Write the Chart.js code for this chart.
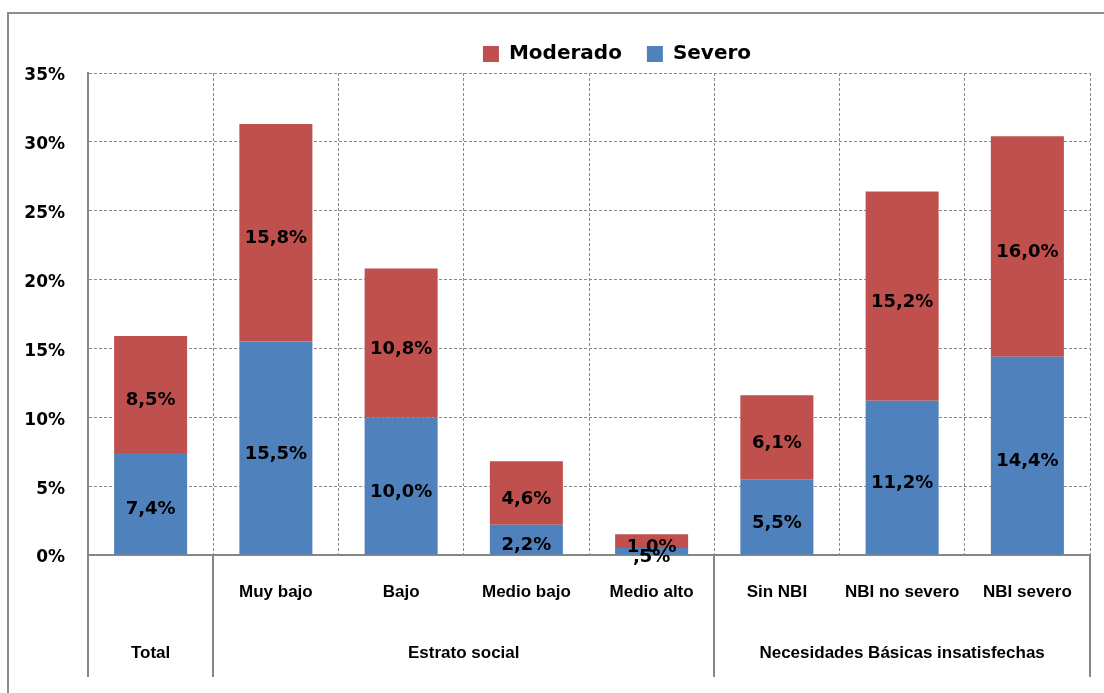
<!DOCTYPE html>
<html>
<head>
<meta charset="utf-8">
<script src="https://cdn.jsdelivr.net/npm/chart.js"></script>
<style>
body { margin: 0; background: #fff; }
.frame {
  position: absolute;
  left: 7px;
  top: 12px;
  width: 1120px;
  height: 720px;
  border: 2px solid #8c8c8c;
}
#chart { position: absolute; left: 0; top: 0; }
</style>
</head>
<body>
<div class="frame"></div>
<canvas id="chart" width="1104" height="693"></canvas>

<script>
  const categories = ["", "Muy bajo", "Bajo", "Medio bajo", "Medio alto", "Sin NBI", "NBI no severo", "NBI severo"];
  const groupNames = ["Total", "Estrato social", "Necesidades Básicas insatisfechas"];
  const groupFirst = [0, 1, 5];
  const groupLast = [0, 4, 7];
  const severo = [7.4, 15.5, 10.0, 2.2, 0.5, 5.5, 11.2, 14.4];
  const moderado = [8.5, 15.8, 10.8, 4.6, 1.0, 6.1, 15.2, 16.0];
  const yTicks = [0, 5, 10, 15, 20, 25, 30, 35];

  const gray = "#868686";
  const boldFont = "'DejaVu Sans', sans-serif";
  const catFont = "'Liberation Sans', Arial, sans-serif";

  function fmt(v) {
    let s = v.toFixed(1);
    if (v < 1) s = s.slice(1);
    return s.replace(".", ",") + "%";
  }

  // value labels in the middle of every segment
  const segmentLabels = {
    id: "segmentLabels",
    afterDatasetsDraw(chart) {
      const ctx = chart.ctx;
      ctx.save();
      ctx.font = "bold 18px " + boldFont;
      ctx.fillStyle = "#000";
      ctx.textAlign = "center";
      ctx.textBaseline = "middle";
      chart.data.datasets.forEach((ds, di) => {
        chart.getDatasetMeta(di).data.forEach((bar, i) => {
          const y = (bar.y + bar.base) / 2 + 6;
          ctx.fillText(fmt(ds.data[i]), bar.x, y);
        });
      });
      ctx.restore();
    }
  };

  // group row and solid dividers under the axis
  const groupAxis = {
    id: "groupAxis",
    afterDraw(chart) {
      const ctx = chart.ctx;
      const x = chart.scales.x;
      const area = chart.chartArea;
      const half = (x.getPixelForValue(1) - x.getPixelForValue(0)) / 2;
      const bottom = 677;
      ctx.save();
      ctx.strokeStyle = gray;
      ctx.lineWidth = 2;
      const edges = [area.left];
      groupLast.forEach(g => edges.push(x.getPixelForValue(g) + half));
      edges.forEach(px => {
        ctx.beginPath();
        ctx.moveTo(Math.round(px), area.bottom);
        ctx.lineTo(Math.round(px), bottom);
        ctx.stroke();
      });
      ctx.font = "bold 17px " + catFont;
      ctx.fillStyle = "#000";
      ctx.textAlign = "center";
      ctx.textBaseline = "middle";
      groupNames.forEach((name, i) => {
        const cx = (x.getPixelForValue(groupFirst[i]) + x.getPixelForValue(groupLast[i])) / 2;
        ctx.fillText(name, cx, 653);
      });
      ctx.restore();
    }
  };

  // move the legend over to where the reference has it
  const legendShift = {
    id: "legendShift",
    afterLayout(chart) {
      const l = chart.legend;
      const dx = 72, dy = 1;
      l.left += dx; l.right += dx;
      l.top += dy; l.bottom += dy;
    }
  };

  new Chart(document.getElementById("chart"), {
    type: "bar",
    data: {
      labels: categories,
      datasets: [
        { label: "Severo", data: severo, backgroundColor: "#4f81bd", borderWidth: 0 },
        { label: "Moderado", data: moderado, backgroundColor: "#c0504d", borderWidth: 0 }
      ]
    },
    options: {
      responsive: false,
      animation: false,
      layout: { padding: { left: 0, right: 14, top: 18, bottom: 0 } },
      datasets: { bar: { categoryPercentage: 1, barPercentage: 0.583 } },
      plugins: {
        legend: {
          reverse: true,
          labels: {
            boxWidth: 16,
            boxHeight: 16,
            padding: 25,
            color: "#000",
            font: { family: boldFont, size: 20, weight: "bold" }
          }
        },
        tooltip: { enabled: false }
      },
      scales: {
        x: {
          stacked: true,
          grid: { color: "#8a8a8a", lineWidth: 1, drawTicks: false },
          border: { color: gray, width: 2, dash: [3, 2] },
          ticks: {
            color: "#000",
            padding: 27,
            maxRotation: 0,
            autoSkip: false,
            font: { family: catFont, size: 17, weight: "bold" }
          },
          afterFit(s) { s.height = 138; }
        },
        y: {
          stacked: true,
          min: 0,
          max: 35,
          afterBuildTicks(s) { s.ticks = yTicks.map(v => ({ value: v })); },
          grid: { color: "#8a8a8a", lineWidth: 1, drawTicks: false },
          border: { color: gray, width: 2, dash: [3, 2] },
          ticks: {
            color: "#000",
            padding: 23,
            labelOffset: 3,
            callback: v => v + "%",
            font: { family: boldFont, size: 17, weight: "bold" }
          },
          afterFit(s) { s.width = 88; }
        }
      }
    },
    plugins: [segmentLabels, groupAxis, legendShift]
  });
</script>
</body>
</html>
